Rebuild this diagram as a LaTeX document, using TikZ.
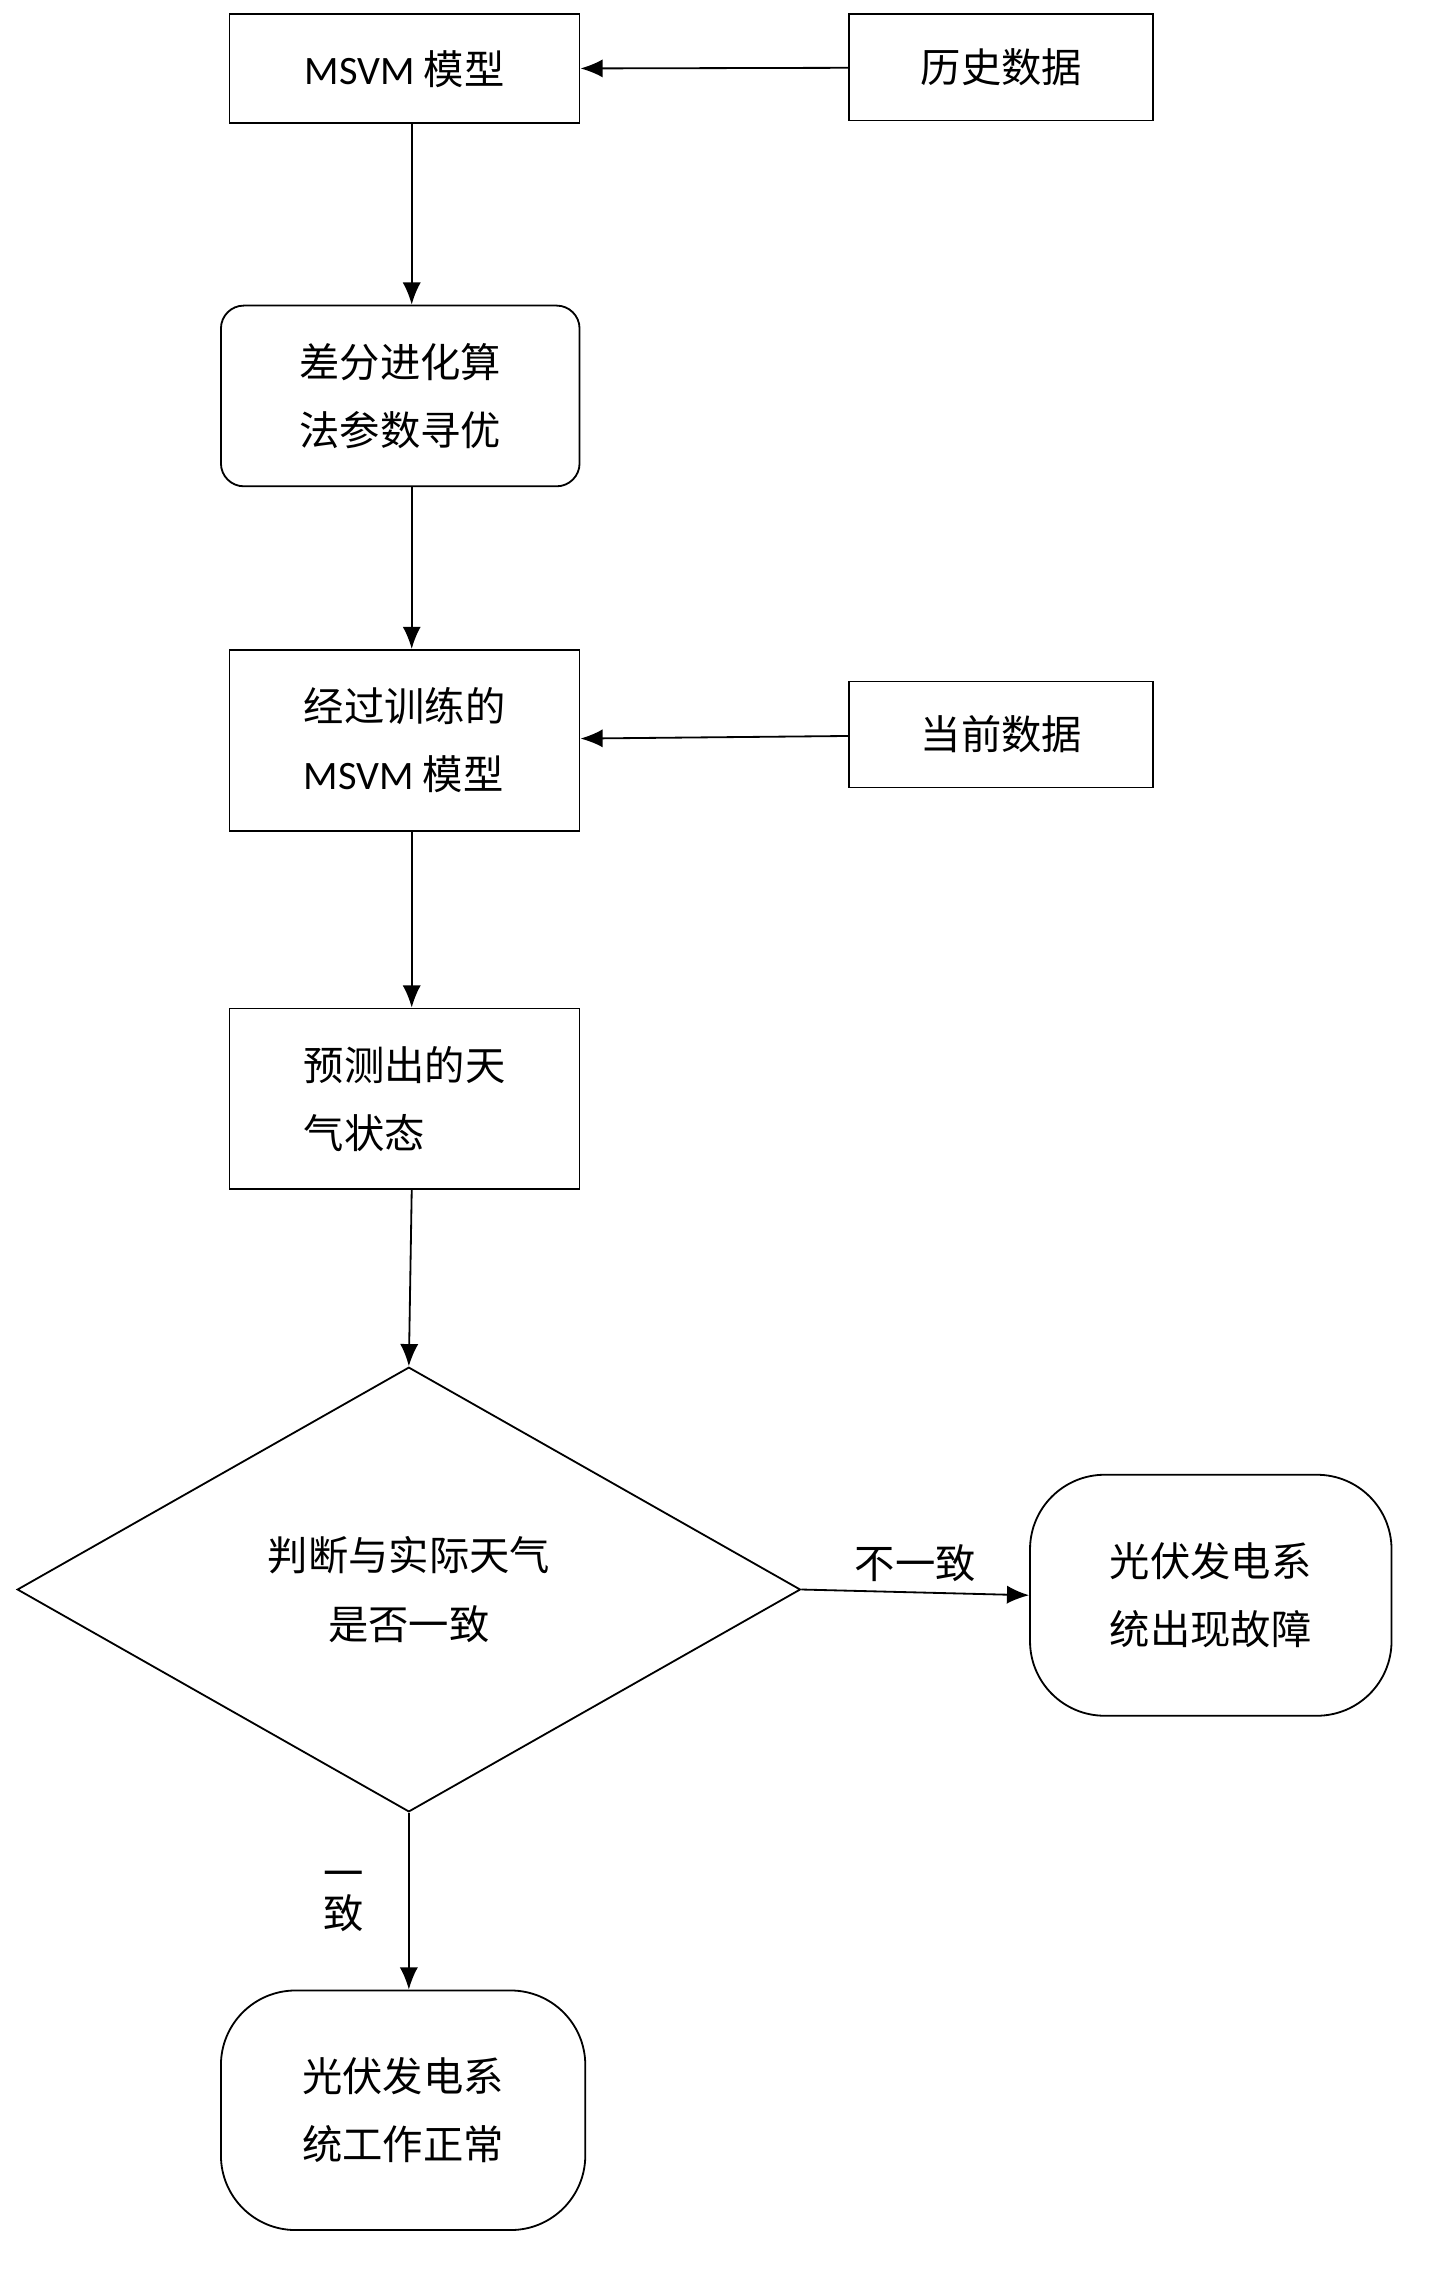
\documentclass[tikz,border=0pt]{standalone}
\usepackage{fontspec}
\setmainfont{Noto Sans CJK SC}
\newfontfamily\lat{Carlito}
\usetikzlibrary{arrows.meta,shapes.geometric}
\begin{document}
\begin{tikzpicture}[x=0.05cm,y=-0.05cm,
 every node/.style={font=\fontsize{40}{68}\selectfont},
 box/.style={draw,line width=1.8pt,minimum width=12.2cm,minimum height=6.3cm,align=left},
 sbox/.style={draw,line width=1.8pt,minimum width=10.6cm,minimum height=3.7cm},
 arr/.style={line width=1.8pt,-{Latex[length=22pt,width=18pt]}}]
\useasboundingbox (0,0) rectangle (1000,1597);
\node[box,minimum height=3.8cm] (m1) at (282,48) {{\lat MSVM} 模型};
\node[sbox] (h) at (698,47) {历史数据};
\node[box,rounded corners=0.8cm,minimum width=12.5cm] (de) at (279,276) {差分进化算\\法参数寻优};
\node[box] (m2) at (282,516) {经过训练的\\{\lat MSVM} 模型};
\node[sbox] (c) at (698,512) {当前数据};
\node[box] (p) at (282,766) {预测出的天\\气状态};
\node[draw,diamond,line width=1.8pt,minimum width=27.3cm,minimum height=15.5cm,aspect=1.76,align=center,inner sep=0pt] (d) at (285,1108) {判断与实际天气\\是否一致};
\node[draw,line width=1.8pt,rounded corners=2.6cm,minimum width=12.6cm,minimum height=8.4cm,align=left] (f) at (844,1112) {光伏发电系\\统出现故障};
\node[draw,line width=1.8pt,rounded corners=2.6cm,minimum width=12.7cm,minimum height=8.35cm,align=left] (n) at (281,1471) {光伏发电系\\统工作正常};
\draw[arr] (h) -- (m1);
\draw[arr] (c) -- (m2);
\draw[arr] (m1.south -| 287,0) -- (de.north -| 287,0);
\draw[arr] (de.south -| 287,0) -- (m2.north -| 287,0);
\draw[arr] (m2.south -| 287,0) -- (p.north -| 287,0);
\draw[arr] (p.south -| 287,0) -- (d.north);
\draw[arr] (d.east) -- node[above=6pt,pos=0.5]{不一致} (f.west);
\draw[arr] (d.south) -- node[left=40pt,align=center,font=\fontsize{40}{40}\selectfont]{一\\致} (n.north -| d.south);
\end{tikzpicture}
\end{document}
